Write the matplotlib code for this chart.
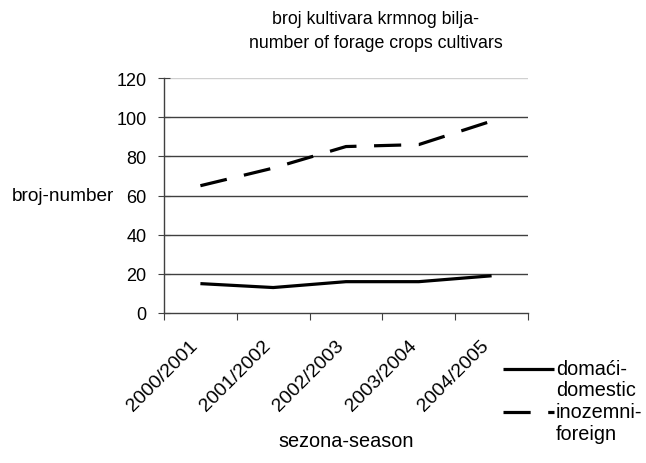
import matplotlib
matplotlib.use("Agg")
import matplotlib.pyplot as plt
from matplotlib.lines import Line2D
from matplotlib.transforms import ScaledTranslation

seasons = ["2000/2001", "2001/2002", "2002/2003", "2003/2004", "2004/2005"]
domestic = [15, 13, 16, 16, 19]
foreign = [65, 74, 85, 86, 98]
yticks = [0, 20, 40, 60, 80, 100, 120]

plt.rcParams['font.family'] = ['Liberation Sans', 'DejaVu Sans']

fig = plt.figure(figsize=(6.46, 4.64), dpi=100)
ax = fig.add_axes([164/646, 1-314/464, (528-164)/646, (314-79)/464])

x = list(range(len(seasons)))
ax.plot(x, domestic, color='black', lw=2.3, solid_capstyle='butt')
ax.plot(x, foreign, color='black', lw=2.3, dashes=(8.5, 5.5), dash_capstyle='butt')

ax.set_xlim(-0.5, len(seasons) - 0.5)
ax.set_ylim(0, 120)
ax.set_yticks(yticks)
ax.set_yticklabels([str(v) for v in yticks], fontsize=13)
for v in yticks[1:-1]:
    ax.axhline(v, color='#404040', lw=1.0, zorder=0)
ax.axhline(120, color='#d0d0d0', lw=1.0, zorder=0)

ax.set_xticks([i - 0.5 for i in range(len(seasons) + 1)])
ax.set_xticklabels([])
ax.set_xticks(x, minor=True)
ax.set_xticklabels(seasons, minor=True, rotation=45, ha='right', va='center',
                   rotation_mode='anchor', fontsize=14)
ax.tick_params(axis='x', which='minor', length=0, pad=21)
ax.tick_params(axis='x', which='major', length=5, color='#404040')
ax.tick_params(axis='y', length=9, direction='inout', color='#404040', pad=8)
shift = ScaledTranslation(-5/100, 0, fig.dpi_scale_trans)
for lab in ax.get_xticklabels(minor=True):
    lab.set_transform(lab.get_transform() + shift)

for s in ['top', 'right']:
    ax.spines[s].set_visible(False)
for s in ['left', 'bottom']:
    ax.spines[s].set_color('#404040')
    ax.spines[s].set_linewidth(1.0)

fig.text(376/646, 1-20/464, "broj kultivara krmnog bilja-", ha='center', va='center', fontsize=12.8)
fig.text(376/646, 1-43/464, "number of forage crops cultivars", ha='center', va='center', fontsize=12.8)
fig.text(346/646, 1-442/464, "sezona-season", ha='center', va='center', fontsize=14.3)
fig.text(12/646, 1-197/464, "broj-number", ha='left', va='center', fontsize=13.7)

# legend
fig.lines.append(Line2D([503/646, 554/646], [1-370/464, 1-370/464], transform=fig.transFigure,
                        color='black', lw=2.3, solid_capstyle='butt'))
fig.lines.append(Line2D([503/646, 554/646], [1-413/464, 1-413/464], transform=fig.transFigure,
                        color='black', lw=2.3, dashes=(8.5, 5.5), dash_capstyle='butt'))
fig.text(556/646, 1-370/464, "domaći-", ha='left', va='center', fontsize=14.3)
fig.text(556/646, 1-391/464, "domestic", ha='left', va='center', fontsize=14.3)
fig.text(556/646, 1-413/464, "inozemni-", ha='left', va='center', fontsize=14.3)
fig.text(556/646, 1-435/464, "foreign", ha='left', va='center', fontsize=14.3)

fig.savefig("out.png", dpi=100, facecolor='white')
